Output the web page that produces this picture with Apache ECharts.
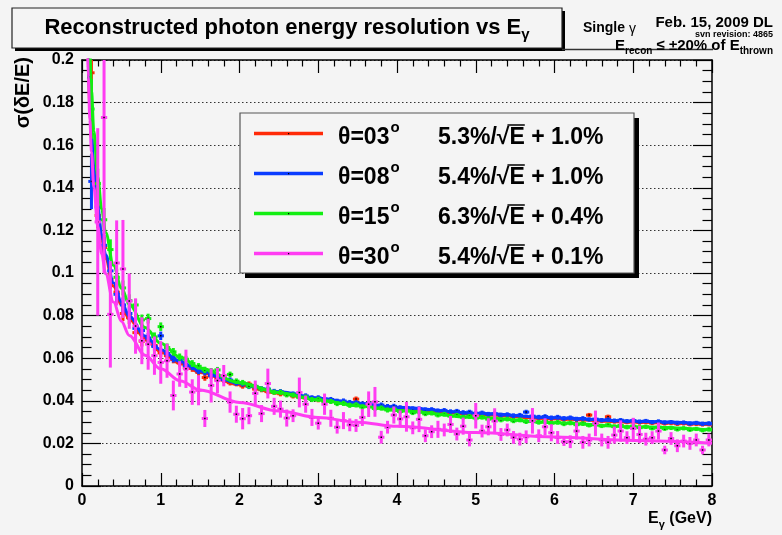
<!DOCTYPE html>
<html><head><meta charset="utf-8">
<script src="https://cdn.jsdelivr.net/npm/echarts@6/dist/echarts.min.js"></script>
<style>html,body{margin:0;padding:0;background:#f4f4f4}#c{width:782px;height:535px}</style>
</head><body><div id="c"></div><script>
// ---------------- data ----------------
const xTicks = [0,1,2,3,4,5,6,7,8];
const yTicks = [0,0.02,0.04,0.06,0.08,0.1,0.12,0.14,0.16,0.18,0.2];
const binHalf = 0.04;
const binX = [0.04,0.12,0.20,0.28,0.36,0.44,0.52,0.60,0.68,0.76,0.84,0.92,1.00,1.08,1.16,1.24,1.32,1.40,1.48,1.56,1.64,1.72,1.80,1.88,1.96,2.04,2.12,2.20,2.28,2.36,2.44,2.52,2.60,2.68,2.76,2.84,2.92,3.00,3.08,3.16,3.24,3.32,3.40,3.48,3.56,3.64,3.72,3.80,3.88,3.96,4.04,4.12,4.20,4.28,4.36,4.44,4.52,4.60,4.68,4.76,4.84,4.92,5.00,5.08,5.16,5.24,5.32,5.40,5.48,5.56,5.64,5.72,5.80,5.88,5.96,6.04,6.12,6.20,6.28,6.36,6.44,6.52,6.60,6.68,6.76,6.84,6.92,7.00,7.08,7.16,7.24,7.32,7.40,7.48,7.56,7.64,7.72,7.80,7.88,7.96];

const seriesNames = ['θ=03','θ=08','θ=15','θ=30'];
const fitStoch = ['5.3%','5.4%','6.3%','5.4%'];
const fitConst = ['1.0%','1.0%','0.4%','0.1%'];
const colors = ['#ff2a08','#0a3cff','#12ee12','#ff3cf2'];

const res03 = [null,0.194,0.127,0.112,0.097,0.091,0.081,0.079,0.072,0.068,
 0.0685,0.066,0.0625,0.0612,0.0594,0.0578,0.0556,0.0552,0.0533,0.0509,
 0.0516,0.0502,0.0497,0.0485,0.0481,0.0470,0.0478,0.0455,0.0452,0.0443,
 0.0441,0.0433,0.0431,0.0423,0.0420,0.0413,0.0411,0.0405,0.0402,0.0399,
 0.0393,0.0392,0.0386,0.0408,0.0380,0.0379,0.0374,0.0373,0.0370,0.0366,
 0.0363,0.0362,0.0358,0.0357,0.0353,0.0354,0.0349,0.0348,0.0344,0.0345,
 0.0340,0.0341,0.0336,0.0337,0.0333,0.0334,0.0329,0.0330,0.0325,0.0327,
 0.0322,0.0324,0.0319,0.0321,0.0316,0.0318,0.0313,0.0315,0.0311,0.0311,
 0.0333,0.0309,0.0306,0.0325,0.0303,0.0305,0.0300,0.0302,0.0298,0.0300,
 0.0296,0.0297,0.0294,0.0296,0.0292,0.0294,0.0290,0.0292,0.0289,0.0290];
const res08 = [null,0.143,0.131,0.113,0.101,0.090,0.085,0.081,0.074,0.073,
 0.0695,0.0655,0.0705,0.0622,0.0598,0.0590,0.0565,0.0560,0.0540,0.0535,
 0.0519,0.0515,0.0500,0.0497,0.0484,0.0480,0.0468,0.0466,0.0456,0.0455,
 0.0444,0.0443,0.0433,0.0432,0.0424,0.0423,0.0414,0.0414,0.0406,0.0406,
 0.0398,0.0399,0.0392,0.0391,0.0385,0.0386,0.0378,0.0380,0.0373,0.0374,
 0.0368,0.0368,0.0363,0.0363,0.0358,0.0359,0.0353,0.0355,0.0349,0.0351,
 0.0345,0.0347,0.0340,0.0343,0.0337,0.0339,0.0333,0.0335,0.0330,0.0332,
 0.0347,0.0328,0.0323,0.0326,0.0320,0.0323,0.0317,0.0320,0.0314,0.0317,
 0.0312,0.0314,0.0309,0.0312,0.0307,0.0309,0.0304,0.0307,0.0302,0.0305,
 0.0300,0.0303,0.0298,0.0300,0.0296,0.0298,0.0293,0.0296,0.0292,0.0294];
const res15 = [null,0.177,0.142,0.125,0.111,0.098,0.093,0.087,0.085,0.078,
 0.0786,0.0700,0.0748,0.0650,0.0630,0.0605,0.0595,0.0575,0.0562,0.0545,
 0.0540,0.0545,0.0512,0.0524,0.0492,0.0485,0.0470,0.0468,0.0455,0.0452,
 0.0440,0.0440,0.0428,0.0427,0.0416,0.0417,0.0406,0.0407,0.0396,0.0397,
 0.0387,0.0388,0.0379,0.0381,0.0371,0.0373,0.0364,0.0366,0.0357,0.0360,
 0.0350,0.0353,0.0344,0.0348,0.0339,0.0342,0.0333,0.0337,0.0328,0.0332,
 0.0323,0.0327,0.0319,0.0323,0.0314,0.0318,0.0310,0.0314,0.0306,0.0310,
 0.0302,0.0306,0.0299,0.0303,0.0295,0.0299,0.0292,0.0296,0.0288,0.0293,
 0.0285,0.0290,0.0282,0.0287,0.0279,0.0284,0.0276,0.0281,0.0274,0.0278,
 0.0271,0.0276,0.0269,0.0273,0.0266,0.0271,0.0264,0.0268,0.0262,0.0266];
const res30 = [null,null,0.124,0.173,0.0806,0.1047,0.1019,0.0868,0.0751,0.0682,
 0.0666,0.0612,0.0580,0.0588,0.0425,0.0526,0.0550,0.0441,0.0449,0.0317,
 0.0472,0.0495,0.0518,0.0394,0.0337,0.0316,0.0330,0.0435,0.0340,0.0481,
 0.0374,0.0361,0.0319,0.0330,0.0439,0.0384,0.0322,0.0295,0.0384,0.0318,
 0.0276,0.0307,0.0287,0.0284,0.0322,0.0384,0.0395,0.0229,0.0276,0.0333,
 0.0315,0.0325,0.0273,0.0313,0.0236,0.0255,0.0266,0.0263,0.0289,0.0244,
 0.0281,0.0216,0.0330,0.0258,0.0278,0.0305,0.0242,0.0263,0.0228,0.0220,
 0.0231,0.0306,0.0236,0.0278,0.0250,0.0228,0.0208,0.0208,0.0258,0.0205,
 0.0216,0.0294,0.0216,0.0205,0.0239,0.0258,0.0227,0.0270,0.0242,0.0220,
 0.0227,0.0258,0.0169,0.0223,0.0189,0.0211,0.0200,0.0216,0.0169,0.0216];

const errTail = [0.0014,0.0014,0.0014,0.0013,0.0013,0.0013,0.0013,0.0012,0.0012,0.0012,
 0.0012,0.0012,0.0012,0.0012,0.0012,0.0012,0.0012,0.0012,0.0012,0.0012,
 0.0012,0.0012,0.0012,0.0012,0.0012,0.0012,0.0012,0.0012,0.0012,0.0012,
 0.0011,0.0011,0.0011,0.0011,0.0011,0.0011,0.0011,0.0011,0.0011,0.0011,
 0.0011,0.0011,0.0011,0.0011,0.0011,0.0011,0.0011,0.0011,0.0011,0.0011,
 0.0011,0.0011,0.0011,0.0011,0.0011,0.0011,0.0011,0.0011,0.0011,0.0011,
 0.0010,0.0010,0.0010,0.0010,0.0010,0.0010,0.0010,0.0010,0.0010,0.0010,
 0.0010,0.0010,0.0010,0.0010,0.0010,0.0010,0.0010,0.0010,0.0010,0.0010];
const errHead03 = [null,0.008,0.006,0.005,0.0045,0.004,0.0035,0.003,0.0028,0.0025,0.0023,0.0021,0.002,0.0019,0.0018,0.0017,0.0016,0.0016,0.0015,0.0015];
const errHead08 = [null,0.013,0.006,0.005,0.0045,0.004,0.0035,0.003,0.0028,0.0025,0.0023,0.0021,0.002,0.0019,0.0018,0.0017,0.0016,0.0016,0.0015,0.0015];
const errHead15 = [null,0.014,0.007,0.0055,0.0048,0.004,0.0035,0.003,0.0028,0.0025,0.0023,0.0021,0.002,0.0019,0.0018,0.0017,0.0016,0.0016,0.0015,0.0015];
const err30 = [null,null,0.044,0.073,0.025,0.020,0.023,0.013,0.013,0.011,
 0.012,0.009,0.010,0.008,0.007,0.006,0.009,0.006,0.007,0.004,
 0.008,0.006,0.005,0.005,0.004,0.005,0.004,0.006,0.004,0.007,
 0.004,0.004,0.004,0.003,0.007,0.004,0.004,0.003,0.005,0.004,
 0.003,0.004,0.003,0.003,0.004,0.006,0.007,0.003,0.003,0.004,
 0.004,0.007,0.003,0.006,0.003,0.003,0.004,0.003,0.004,0.003,
 0.004,0.003,0.006,0.003,0.004,0.006,0.003,0.003,0.003,0.003,
 0.003,0.006,0.003,0.004,0.004,0.003,0.002,0.003,0.004,0.003,
 0.003,0.006,0.003,0.003,0.004,0.005,0.003,0.005,0.004,0.003,
 0.003,0.004,0.002,0.003,0.003,0.003,0.003,0.003,0.002,0.003];

// fitted curves, sampled
const fitX  = [0.07,0.08,0.1,0.12,0.15,0.2,0.25,0.3,0.4,0.5,0.6,0.8,1,1.25,1.5,2,2.5,3,3.5,4,5,6,7,8];
const fit03 = [0.2103,0.1974,0.1776,0.1630,0.1468,0.1285,0.1160,0.1068,0.0938,0.0850,0.0784,0.0693,0.0630,0.0574,0.0533,0.0475,0.0435,0.0406,0.0383,0.0365,0.0337,0.0316,0.0300,0.0287];
const fit08 = [0.2141,0.2009,0.1808,0.1659,0.1494,0.1308,0.1180,0.1086,0.0954,0.0864,0.0797,0.0704,0.0640,0.0583,0.0541,0.0482,0.0442,0.0412,0.0389,0.0370,0.0341,0.0320,0.0304,0.0291];
const fit15 = [0.2421,0.2268,0.2032,0.1859,0.1667,0.1449,0.1300,0.1190,0.1036,0.0931,0.0853,0.0744,0.0670,0.0604,0.0554,0.0485,0.0438,0.0404,0.0377,0.0355,0.0322,0.0297,0.0278,0.0263];
const fit30 = [0.2051,0.1919,0.1718,0.1569,0.1404,0.1218,0.1090,0.0996,0.0864,0.0774,0.0707,0.0614,0.0550,0.0493,0.0451,0.0392,0.0352,0.0322,0.0299,0.0280,0.0251,0.0230,0.0214,0.0201];

// ---------------- drawing ----------------
const FF = "'Liberation Sans', Arial, Helvetica, sans-serif";
const BG = '#f4f4f4';
const mctx = document.createElement('canvas').getContext('2d');
function tw(t, size, w){ mctx.font = (w||'bold') + ' ' + size + 'px ' + FF; return mctx.measureText(t).width; }
function runs(x, y, parts, align){
  const total = parts.reduce((s,p)=>s+tw(p[0],p[1],p[3]),0);
  let cx = align==='right' ? x-total : (align==='center' ? x-total/2 : x);
  const out = [];
  parts.forEach(p=>{
    out.push({type:'text', x:cx, y:y+(p[2]||0), z:100,
      style:{text:p[0], fill:'#000', font:(p[3]||'bold')+' '+p[1]+'px '+FF, textAlign:'left', textVerticalAlign:'middle', align:'left', verticalAlign:'middle'}});
    cx += tw(p[0],p[1],p[3]);
  });
  return {els: out, end: cx};
}

const allVals = [res03,res08,res15,res30];
const allErrs = [errHead03.concat(errTail), errHead08.concat(errTail), errHead15.concat(errTail), err30];
const allFits = [fit03,fit08,fit15,fit30];

function points(vals, errs){
  const d=[]; for(let i=0;i<binX.length;i++){ if(vals[i]!=null) d.push([binX[i], vals[i], errs[i]]); } return d;
}
function crossRender(color){
  return function(params, api){
    const x=api.value(0), y=api.value(1), e=api.value(2);
    const c=api.coord([x,y]), l=api.coord([x-binHalf,y]), r=api.coord([x+binHalf,y]);
    const t=api.coord([x,y+e]), b=api.coord([x,y-e]);
    return {type:'group', children:[
      {type:'line', shape:{x1:l[0],y1:c[1],x2:r[0],y2:c[1]}, style:{stroke:color,lineWidth:3}},
      {type:'line', shape:{x1:c[0],y1:t[1],x2:c[0],y2:b[1]}, style:{stroke:color,lineWidth:3}},
      {type:'rect', shape:{x:c[0]-0.75,y:c[1]-0.75,width:1.5,height:1.5}, style:{fill:'#000'}}
    ]};
  };
}

const series = [];
for (let k=0;k<4;k++){
  series.push({type:'custom', name:seriesNames[k], renderItem:crossRender(colors[k]), clip:true,
    data:points(allVals[k], allErrs[k]), z:2+k*2, silent:true, encode:{x:0,y:1}});
  series.push({type:'line', name:seriesNames[k]+' fit', data:fitX.map((x,i)=>[x,allFits[k][i]]),
    smooth:0.35, smoothMonotone:'x', showSymbol:false, clip:true, z:3+k*2,
    lineStyle:{color:colors[k], width:3}, silent:true});
}

const tickStyle = {color:'#000', width:1.2};
const xBase = {type:'value', min:0, max:8, interval:1,
  axisLine:{show:true, onZero:false, lineStyle:{color:'#000', width:1.5}},
  axisTick:{show:true, inside:true, length:13, lineStyle:tickStyle},
  minorTick:{show:true, splitNumber:5, length:6.5, lineStyle:tickStyle},
  splitLine:{show:false}};
const yBase = {type:'value', min:0, max:0.2, interval:0.02,
  axisLine:{show:true, onZero:false, lineStyle:{color:'#000', width:1.5}},
  axisTick:{show:true, inside:true, length:19, lineStyle:tickStyle},
  minorTick:{show:true, splitNumber:4, length:9.5, lineStyle:tickStyle}};

const graphics = [];
// title box
graphics.push({type:'rect', shape:{x:15,y:11,width:550,height:40}, style:{fill:'#000'}, z:90});
graphics.push({type:'rect', shape:{x:12,y:8,width:550,height:40}, style:{fill:BG, stroke:'#222', lineWidth:1.2}, z:91});
graphics.push(...runs(287, 28, [['Reconstructed photon energy resolution vs E',22],['γ',15,7]], 'center').els);
// info text top right
graphics.push({type:'line', shape:{x1:562,y1:49.5,x2:713,y2:49.5}, style:{stroke:'#333', lineWidth:1.5}, z:90});
graphics.push(...runs(583, 28, [['Single ',14],['γ',14,1,'normal']], 'left').els);
graphics.push(...runs(773, 23, [['Feb. 15, 2009 DL',15]], 'right').els);
graphics.push(...runs(773, 35, [['svn revision: 4865',9]], 'right').els);
graphics.push(...runs(773, 46, [['E',15],['recon',10,5],[' ≤ ±20% of E',15],['thrown',10,5]], 'right').els);
// axis titles
graphics.push({type:'text', x:23, y:57, rotation:Math.PI/2, z:100,
  style:{text:'σ(δE/E)', fill:'#000', font:'bold 20px '+FF, align:'right', verticalAlign:'middle', textAlign:'right', textVerticalAlign:'middle'}});
graphics.push(...runs(712, 519, [['E',16],['γ',11,6],[' (GeV)',16]], 'right').els);

// legend
const LX=240, LY=113, LW=394, LH=160;
const LF = 23;
graphics.push({type:'rect', shape:{x:LX+5,y:LY+5,width:LW,height:LH}, style:{fill:'#000'}, z:95});
graphics.push({type:'rect', shape:{x:LX,y:LY,width:LW,height:LH}, style:{fill:BG, stroke:'#555', lineWidth:1.2}, z:96});
for (let k=0;k<4;k++){
  const ry = 133.5 + k*40;
  graphics.push({type:'line', shape:{x1:254,y1:ry,x2:323,y2:ry}, style:{stroke:colors[k], lineWidth:3.5}, z:100});
  graphics.push({type:'rect', shape:{x:288,y:ry-0.5,width:1.2,height:1.2}, style:{fill:'#000'}, z:101});
  const lab = runs(338, ry+4, [[seriesNames[k],LF]], 'left');
  graphics.push(...lab.els);
  graphics.push(...runs(lab.end+1, ry-6, [['o',15]], 'left').els);
  const f = runs(438, ry+4, [[fitStoch[k]+'/√',LF],['E',LF],[' + '+fitConst[k],LF]], 'left');
  graphics.push(...f.els);
  const ex = f.els[1].x, ew = tw('E',LF);
  graphics.push({type:'line', shape:{x1:ex-2,y1:ry-8.5,x2:ex+ew,y2:ry-8.5}, style:{stroke:'#000', lineWidth:1.5}, z:100});
}

const chart = echarts.init(document.getElementById('c'), null, {renderer:'canvas'});
chart.setOption({
  animation:false,
  backgroundColor:BG,
  grid:{left:82, right:70, top:60, bottom:49, show:false},
  xAxis:[
    Object.assign({}, xBase, {position:'bottom', axisLabel:{show:true, margin:7, color:'#000', fontSize:16, fontWeight:'bold', fontFamily:FF, customValues:xTicks}}),
    Object.assign({}, xBase, {position:'top', axisLabel:{show:false}})
  ],
  yAxis:[
    Object.assign({}, yBase, {position:'left',
      axisLabel:{show:true, margin:8, color:'#000', fontSize:16, fontWeight:'bold', fontFamily:FF,
        formatter:v=>String(+(+v).toFixed(2))},
      splitLine:{show:true, lineStyle:{color:'#333', width:1, type:[1.5,2.5]}}}),
    Object.assign({}, yBase, {position:'right', axisLabel:{show:false}, splitLine:{show:false}})
  ],
  series: series,
  graphic: graphics
});
</script></body></html>
